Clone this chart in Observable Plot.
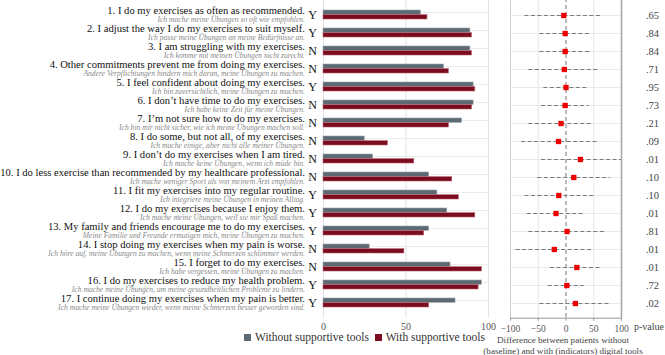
<!DOCTYPE html>
<html>
<head>
<meta charset="utf-8">
<script src="https://cdn.jsdelivr.net/npm/d3@7"></script>
<script src="https://cdn.jsdelivr.net/npm/@observablehq/plot@0.6"></script>
<style>
  html, body { margin: 0; padding: 0; background: #fff; }
  #wrap { position: relative; width: 665px; height: 355px; overflow: hidden; font-family: "Liberation Serif", "Times New Roman", serif; }
  .abs { position: absolute; }
  .leg { position: absolute; top: 331px; left: 244px; font-size: 11.5px; color: #333; white-space: nowrap; }
  .leg span.sw { display: inline-block; width: 7px; height: 7px; margin-right: 4px; vertical-align: 0px; }
  .xt { position: absolute; left: 463px; width: 200px; text-align: center; font-size: 9.1px; color: #444; line-height: 10.5px; top: 335px; white-space: nowrap; }
  .pv { position: absolute; left: 634px; top: 321px; font-size: 10px; color: #444; white-space: nowrap; }
</style>
</head>
<body>
<div id="wrap"></div>
<script>
const english = [
  "1. I do my exercises as often as recommended.",
  "2. I adjust the way I do my exercises to suit myself.",
  "3. I am struggling with my exercises.",
  "4. Other commitments prevent me from doing my exercises.",
  "5. I feel confident about doing my exercises.",
  "6. I don’t have time to do my exercises.",
  "7. I’m not sure how to do my exercises.",
  "8. I do some, but not all, of my exercises.",
  "9. I don’t do my exercises when I am tired.",
  "10. I do less exercise than recommended by my healthcare professional.",
  "11. I fit my exercises into my regular routine.",
  "12. I do my exercises because I enjoy them.",
  "13. My family and friends encourage me to do my exercises.",
  "14. I stop doing my exercises when my pain is worse.",
  "15. I forget to do my exercises.",
  "16. I do my exercises to reduce my health problem.",
  "17. I continue doing my exercises when my pain is better."
];
const german = [
  "Ich mache meine Übungen so oft wie empfohlen.",
  "Ich passe meine Übungen an meine Bedürfnisse an.",
  "Ich komme mit meinen Übungen nicht zurecht.",
  "Andere Verpflichtungen hindern mich daran, meine Übungen zu machen.",
  "Ich bin zuversichtlich, meine Übungen zu machen.",
  "Ich habe keine Zeit für meine Übungen.",
  "Ich bin mir nicht sicher, wie ich meine Übungen machen soll.",
  "Ich mache einige, aber nicht alle meiner Übungen.",
  "Ich mache keine Übungen, wenn ich müde bin.",
  "Ich mache weniger Sport als von meinem Arzt empfohlen.",
  "Ich integriere meine Übungen in meinen Alltag.",
  "Ich mache meine Übungen, weil sie mir Spaß machen.",
  "Meine Familie und Freunde ermutigen mich, meine Übungen zu machen.",
  "Ich höre auf, meine Übungen zu machen, wenn meine Schmerzen schlimmer werden.",
  "Ich habe vergessen, meine Übungen zu machen.",
  "Ich mache meine Übungen, um meine gesundheitlichen Probleme zu lindern.",
  "Ich mache meine Übungen wieder, wenn meine Schmerzen besser geworden sind."
];
const answers = ["Y","Y","N","N","Y","N","N","N","N","N","Y","Y","Y","N","N","Y","Y"];
const withoutTools = [59, 89, 89, 73, 91, 91, 84, 25, 30, 64, 69, 75, 64, 28, 77, 96, 80];
const withTools    = [63, 90, 90, 76, 92, 90, 76, 39, 55, 78, 82, 92, 61, 49, 96, 94, 64];
const diffValues = [-4, -1.5, -1.5, -3, 0, -1.5, -9, -13.5, 26, 14, -13, -18, 2, -21, 19.5, 1.5, 17];
const diffLow    = [-74, -47, -47, -67, -40, -44, -67, -80, -44, -51, -74, -70, -67, -90, -28, -32, -47];
const diffHigh   = [66, 44, 44, 57, 39, 42, 47, 58, 100, 80, 50, 35, 73, 47, 66, 33, 80];
const pValues = [".65",".84",".84",".71",".95",".73",".21",".09",".01",".10",".10",".01",".81",".01",".01",".72",".02"];
const barTicks = [0, 50, 100];
const diffTicks = [-100, -50, 0, 50, 100];

const GREY = "#5d6a73";
const RED = "#7b0b1f";

const rows = english.map((e, i) => ({
  q: i + 1, en: e, de: german[i], yn: answers[i],
  wo: withoutTools[i], wi: withTools[i],
  d: diffValues[i], lo: diffLow[i], hi: diffHigh[i], p: pValues[i]
}));
const qDomain = rows.map(r => r.q);

const wrap = document.getElementById("wrap");

// Bar panel with labels
const bars = Plot.plot({
  width: 490, height: 336,
  marginLeft: 323, marginRight: 2, marginTop: 0, marginBottom: 336 - 317.3,
  style: { fontFamily: "Liberation Serif, Times New Roman, serif", background: "transparent", overflow: "visible" },
  x: { domain: [0, 100], ticks: barTicks, tickSize: 0, tickPadding: 6, label: null },
  y: { domain: qDomain, paddingInner: 0.5, paddingOuter: 0.25, axis: null },
  marks: [
    Plot.ruleX(barTicks, { stroke: "#e2e2e2" }),
    Plot.ruleY(rows, { y: "q", x1: 0, x2: 100, dy: -2.5, stroke: "#ececec" }),
    Plot.barX(rows, { y: "q", x: "wo", fill: GREY, insetBottom: 4.67, stroke: "#9aa3a9", strokeWidth: 0.6 }),
    Plot.barX(rows, { y: "q", x: "wi", fill: RED, insetTop: 4.67, stroke: "#b3606c", strokeWidth: 0.6 }),
    Plot.text(rows, { y: "q", x: 0, text: "en", textAnchor: "end", dx: -18.5, dy: -4.7, fontSize: 10.6, fill: "#111" }),
    Plot.text(rows, { y: "q", x: 0, text: "de", textAnchor: "end", dx: -18.5, dy: 4.4, fontSize: 7.6, fontStyle: "italic", fill: "#8a8a8a" }),
    Plot.text(rows, { y: "q", x: 0, text: "yn", textAnchor: "middle", dx: -11, dy: 0, fontSize: 12, fill: "#111" }),
    Plot.axisX({ ticks: barTicks, tickSize: 0, tickPadding: 5, fontSize: 10, fill: "#555", label: null })
  ]
});
bars.classList.add("abs");
bars.style.left = "0px";
bars.style.top = "0px";
wrap.appendChild(bars);

// Difference panel
const diff = Plot.plot({
  width: 175, height: 336,
  marginLeft: 20, marginRight: 44, marginTop: 0, marginBottom: 336 - 319.7,
  style: { fontFamily: "Liberation Serif, Times New Roman, serif", background: "transparent", overflow: "visible" },
  x: { domain: [-100, 100], label: null },
  y: { domain: qDomain, paddingInner: 0.5, paddingOuter: 0.25, axis: null, range: [0, 321] },
  marks: [
    Plot.ruleY(rows, { y: "q", stroke: "#e9e9e9" }),
    Plot.ruleX([-50, 50], { stroke: "#e6e6e6" }),
    Plot.ruleX([-100], { stroke: "#cfcfcf" }),
    Plot.ruleX([100], { stroke: "#a9a9a9", strokeWidth: 1.6 }),
    Plot.ruleX([0], { stroke: "#777", strokeDasharray: "4,3" }),
    Plot.ruleY(rows, { y: "q", x1: "lo", x2: "hi", stroke: "#7a7a7a", strokeDasharray: "4,2.5" }),
    Plot.dot(rows, { y: "q", x: "d", symbol: "square", r: 3, fill: "#ee0000", stroke: "none" }),
    Plot.text(rows, { y: "q", x: 100, text: "p", dx: 31, fontSize: 10.5, fill: "#444" }),
    Plot.frame({ anchor: "bottom", stroke: "#999" }),
    Plot.axisX({ ticks: diffTicks, tickSize: 3, tickPadding: 4, fontSize: 9.5, fill: "#555", stroke: "#999", label: null })
  ]
});
diff.classList.add("abs");
diff.style.left = "490px";
diff.style.top = "-2px";
wrap.appendChild(diff);

// Legend
const leg = document.createElement("div");
leg.className = "leg";
leg.innerHTML = `<span class="sw" style="background:${GREY}"></span>Without supportive tools&nbsp;&nbsp;<span class="sw" style="background:${RED}"></span>With supportive tools`;
wrap.appendChild(leg);

const xt = document.createElement("div");
xt.className = "xt";
xt.innerHTML = "Difference between patients without<br>(baseline) and with (indicators) digital tools";
wrap.appendChild(xt);

const pv = document.createElement("div");
pv.className = "pv";
pv.textContent = "p-value";
wrap.appendChild(pv);
</script>
</body>
</html>
